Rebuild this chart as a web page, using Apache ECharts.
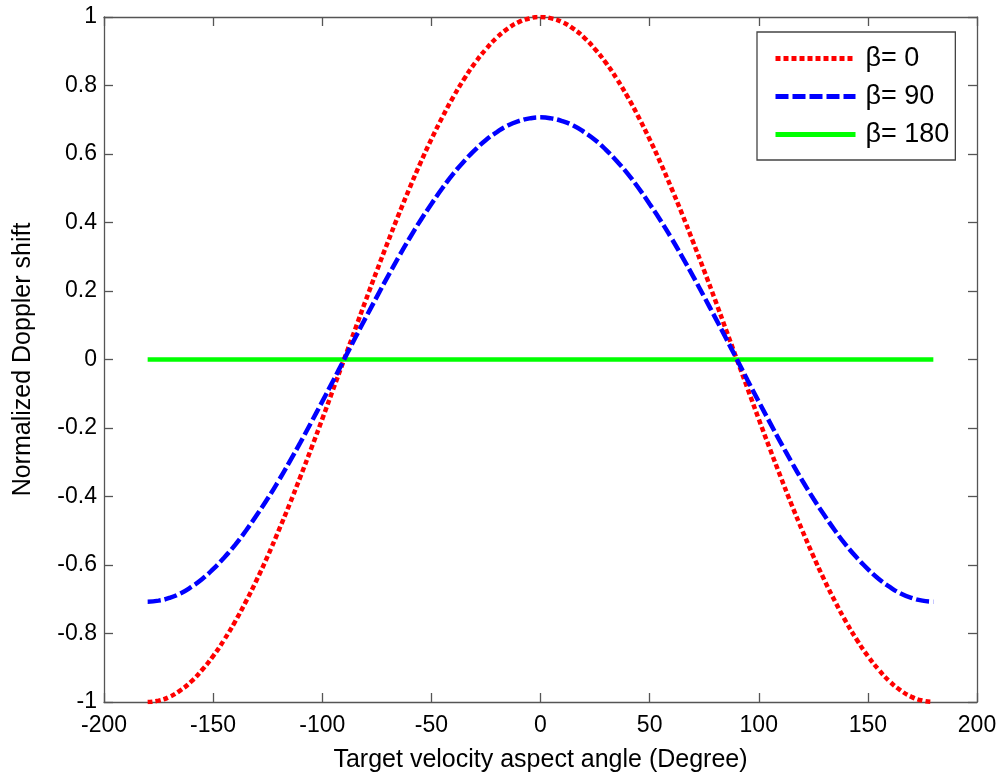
<!DOCTYPE html>
<html>
<head>
<meta charset="utf-8">
<script src="https://cdn.jsdelivr.net/npm/echarts@6/dist/echarts.min.js"></script>
<style>html,body{margin:0;padding:0;background:#fff;}#c{width:1003px;height:778px;}</style>
</head>
<body>
<div id="c"></div>
<script>
// Data
const angles = [-180,-175,-170,-165,-160,-155,-150,-145,-140,-135,-130,-125,-120,-115,-110,-105,-100,-95,-90,-85,-80,-75,-70,-65,-60,-55,-50,-45,-40,-35,-30,-25,-20,-15,-10,-5,0,5,10,15,20,25,30,35,40,45,50,55,60,65,70,75,80,85,90,95,100,105,110,115,120,125,130,135,140,145,150,155,160,165,170,175,180];
const beta0 = [-1.000,-0.996,-0.985,-0.966,-0.940,-0.906,-0.866,-0.819,-0.766,-0.707,-0.643,-0.574,-0.500,-0.423,-0.342,-0.259,-0.174,-0.087,0.000,0.087,0.174,0.259,0.342,0.423,0.500,0.574,0.643,0.707,0.766,0.819,0.866,0.906,0.940,0.966,0.985,0.996,1.000,0.996,0.985,0.966,0.940,0.906,0.866,0.819,0.766,0.707,0.643,0.574,0.500,0.423,0.342,0.259,0.174,0.087,0.000,-0.087,-0.174,-0.259,-0.342,-0.423,-0.500,-0.574,-0.643,-0.707,-0.766,-0.819,-0.866,-0.906,-0.940,-0.966,-0.985,-0.996,-1.000];
const beta90 = [-0.707,-0.704,-0.696,-0.683,-0.664,-0.641,-0.612,-0.579,-0.542,-0.500,-0.454,-0.406,-0.354,-0.299,-0.242,-0.183,-0.123,-0.062,0.000,0.062,0.123,0.183,0.242,0.299,0.354,0.406,0.454,0.500,0.542,0.579,0.612,0.641,0.664,0.683,0.696,0.704,0.707,0.704,0.696,0.683,0.664,0.641,0.612,0.579,0.542,0.500,0.454,0.406,0.354,0.299,0.242,0.183,0.123,0.062,0.000,-0.062,-0.123,-0.183,-0.242,-0.299,-0.354,-0.406,-0.454,-0.500,-0.542,-0.579,-0.612,-0.641,-0.664,-0.683,-0.696,-0.704,-0.707];
const beta180 = [0,0,0,0,0,0,0,0,0,0,0,0,0,0,0,0,0,0,0,0,0,0,0,0,0,0,0,0,0,0,0,0,0,0,0,0,0,0,0,0,0,0,0,0,0,0,0,0,0,0,0,0,0,0,0,0,0,0,0,0,0,0,0,0,0,0,0,0,0,0,0,0,0];
const seriesNames = ['\u03b2= 0', '\u03b2= 90', '\u03b2= 180'];
const xName = 'Target velocity aspect angle (Degree)';
const yName = 'Normalized Doppler shift';

const pairs = (ys) => angles.map((a, i) => [a, ys[i]]);
const axisColor = '#555';
const font = 'Arial, "Liberation Sans", Helvetica, sans-serif';

const chart = echarts.init(document.getElementById('c'), null, {renderer: 'canvas'});
const baseX = {
  type: 'value', min: -200, max: 200, interval: 50,
  axisLine: {show: true, onZero: false, lineStyle: {color: axisColor, width: 1.3}},
  axisTick: {show: true, inside: true, length: 9, lineStyle: {color: axisColor, width: 1.3}},
  splitLine: {show: false}
};
const baseY = {
  type: 'value', min: -1, max: 1, interval: 0.2,
  axisLine: {show: true, onZero: false, lineStyle: {color: axisColor, width: 1.3}},
  axisTick: {show: true, inside: true, length: 9, lineStyle: {color: axisColor, width: 1.3}},
  splitLine: {show: false}
};
chart.setOption({
  animation: false,
  backgroundColor: '#fff',
  textStyle: {fontFamily: font},
  grid: {left: 104, top: 17, width: 873, height: 687, containLabel: false},
  legend: {
    orient: 'vertical', left: 757, top: 32,
    padding: [13, 6, 12, 16],
    itemWidth: 80, itemHeight: 20, itemGap: 11,
    borderColor: '#444', borderWidth: 1.3, backgroundColor: '#fff',
    itemStyle: {opacity: 0},
    lineStyle: {width: 5},
    textStyle: {fontSize: 27, color: '#000', fontFamily: font, padding: [0, 0, 0, 5]},
    data: seriesNames
  },
  xAxis: [
    Object.assign({}, baseX, {
      position: 'bottom',
      name: xName, nameLocation: 'middle', nameGap: 46,
      nameTextStyle: {fontSize: 25, color: '#000', fontFamily: font},
      axisLabel: {show: true, color: '#000', fontSize: 23, margin: 12, fontFamily: font}
    }),
    Object.assign({}, baseX, {position: 'top', axisLabel: {show: false}})
  ],
  yAxis: [
    Object.assign({}, baseY, {
      position: 'left',
      name: yName, nameLocation: 'middle', nameGap: 68,
      nameTextStyle: {fontSize: 25, color: '#000', fontFamily: font},
      axisLabel: {show: true, color: '#000', fontSize: 23, margin: 7, fontFamily: font}
    }),
    Object.assign({}, baseY, {position: 'right', axisLabel: {show: false}})
  ],
  series: [
    {name: seriesNames[0], type: 'line', data: pairs(beta0), smooth: true, symbol: 'none',
     lineStyle: {color: '#ff0000', width: 4.5, type: [5, 3]}, itemStyle: {color: '#ff0000'}, z: 3},
    {name: seriesNames[1], type: 'line', data: pairs(beta90), smooth: true, symbol: 'none',
     lineStyle: {color: '#0000ff', width: 4.5, type: [13, 4]}, itemStyle: {color: '#0000ff'}, z: 4},
    {name: seriesNames[2], type: 'line', data: pairs(beta180), symbol: 'none',
     lineStyle: {color: '#00ff00', width: 4.5, type: 'solid'}, itemStyle: {color: '#00ff00'}, z: 2}
  ]
});
</script>
</body>
</html>
